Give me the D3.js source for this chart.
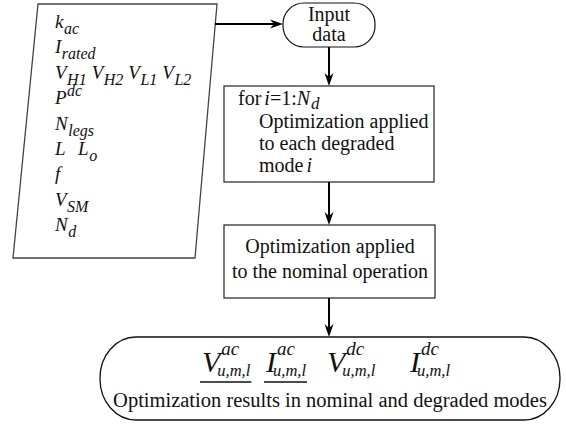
<!DOCTYPE html>
<html>
<head>
<meta charset="utf-8">
<script src="https://cdn.jsdelivr.net/npm/d3@7"></script>
<style>
  html, body { margin: 0; padding: 0; background: #fff; }
</style>
</head>
<body>
<svg id="chart" width="566" height="428"></svg>
<script>
// flowchart content
var inputSymbols = [
  [{b: "k", sub: "ac"}],
  [{b: "I", sub: "rated"}],
  [{b: "V", sub: "H1"}, {b: "V", sub: "H2"}, {b: "V", sub: "L1"}, {b: "V", sub: "L2"}],
  [{b: "P", sup: "dc"}],
  [{b: "N", sub: "legs"}],
  [{b: "L"}, {b: "L", sub: "o"}],
  [{b: "f"}],
  [{b: "V", sub: "SM"}],
  [{b: "N", sub: "d"}]
];
var startLabel = ["Input", "data"];
var loopHeader = [{t: "for ", it: false}, {t: "i", it: true}, {t: "=1:", it: false}, {t: "N", it: true}];
var loopHeaderSub = "d";
var loopLabel = ["Optimization applied", "to each degraded", "mode "];
var loopLabelTail = "i";
var nominalLabel = ["Optimization applied", "to the nominal operation"];
var resultSymbols = [
  {b: "V", sup: "ac", sub: "u,m,l", line: true},
  {b: "I", sup: "ac", sub: "u,m,l", line: true},
  {b: "V", sup: "dc", sub: "u,m,l", line: false},
  {b: "I", sup: "dc", sub: "u,m,l", line: false}
];
var resultCaption = "Optimization results in nominal and degraded modes";

// layout
var svg = d3.select("#chart");
var FONT = "'Liberation Serif'";
var cx = 329;
var para = [[38, 4], [217, 4], [195, 258], [13, 258]];
var startBox = {x: 283, y: 3, w: 92, h: 44};
var loopBox = {x: 224, y: 86, w: 210, h: 96};
var nomBox = {x: 224, y: 225, w: 211, h: 73};
var endBox = {x: 100, y: 337, w: 460, h: 83};
var resultX = [202, 266, 327, 410];

var rowY = d3.scalePoint().domain(d3.range(inputSymbols.length)).range([28, 231]);

function label(x, y, size, italic) {
  return svg.append("text").attr("x", x).attr("y", y)
    .style("font-family", FONT)
    .style("font-size", size + "px")
    .style("font-style", italic ? "italic" : "normal")
    .attr("fill", "#111");
}

// shapes
svg.append("path")
  .attr("d", d3.line()(para) + "Z")
  .attr("fill", "none").attr("stroke", "#444").attr("stroke-width", 1.3);

svg.append("rect")
  .attr("x", startBox.x).attr("y", startBox.y).attr("width", startBox.w).attr("height", startBox.h)
  .attr("rx", 21).attr("ry", 21)
  .attr("fill", "none").attr("stroke", "#111").attr("stroke-width", 1.2);

[loopBox, nomBox].forEach(function(b) {
  svg.append("rect")
    .attr("x", b.x).attr("y", b.y).attr("width", b.w).attr("height", b.h)
    .attr("fill", "none").attr("stroke", "#222").attr("stroke-width", 1.2);
});

svg.append("rect")
  .attr("x", endBox.x).attr("y", endBox.y).attr("width", endBox.w).attr("height", endBox.h)
  .attr("rx", 36).attr("ry", 41)
  .attr("fill", "none").attr("stroke", "#111").attr("stroke-width", 1.3);

// arrows
function arrow(x1, y1, x2, y2) {
  var ang = Math.atan2(y2 - y1, x2 - x1);
  var L = 13, W = 4.5, N = 9;
  function pt(d, s) {
    return [x2 - d * Math.cos(ang) - s * Math.sin(ang), y2 - d * Math.sin(ang) + s * Math.cos(ang)];
  }
  svg.append("line")
    .attr("x1", x1).attr("y1", y1).attr("x2", pt(N, 0)[0]).attr("y2", pt(N, 0)[1])
    .attr("stroke", "#000").attr("stroke-width", 2);
  svg.append("path")
    .attr("d", "M" + [x2, y2] + "L" + pt(L, W) + "L" + pt(N, 0) + "L" + pt(L, -W) + "Z")
    .attr("fill", "#000");
}
arrow(215, 24, startBox.x, 24);
arrow(cx, startBox.y + startBox.h, cx, loopBox.y);
arrow(cx, loopBox.y + loopBox.h, cx, nomBox.y);
arrow(cx, nomBox.y + nomBox.h, cx, endBox.y);

// input symbols
inputSymbols.forEach(function(row, i) {
  var y = rowY(i);
  var x = 55;
  row.forEach(function(s) {
    var t = label(x, y, 19, true).text(s.b);
    var w = t.node().getComputedTextLength() + 0.5;
    var extra = 0;
    if (s.sub) {
      var st = label(x + w, y + 6, 16, true).text(s.sub);
      extra = st.node().getComputedTextLength();
    }
    if (s.sup) {
      var pt = label(x + w, y - 8, 16, true).text(s.sup);
      extra = Math.max(extra, pt.node().getComputedTextLength());
    }
    // bare symbols get a wider gap, like "L   Lo"
    x += w + extra + (s.sub || s.sup ? 5 : 12);
  });
});

// start label
startLabel.forEach(function(s, i) {
  label(cx, 21 + i * 20, 20, false).attr("text-anchor", "middle").text(s);
});

// loop box, header pieces laid out one after another
var hx = 238;
loopHeader.forEach(function(p) {
  var t = label(hx, 105, 20, p.it).text(p.t);
  hx += t.node().getComputedTextLength() + (p.t === "for " ? 3 : 0);
});
label(hx + 1, 109, 17, true).text(loopHeaderSub);

loopLabel.forEach(function(s, i) {
  var t = label(259, 128 + i * 22, 20, false).text(s);
  if (i === loopLabel.length - 1) {
    label(259 + t.node().getComputedTextLength() + 3, 128 + i * 22, 20, true).text(loopLabelTail);
  }
});

// nominal box
nominalLabel.forEach(function(s, i) {
  label(cx + 1, 253 + i * 25, 20, false).attr("text-anchor", "middle").text(s);
});

// results
resultSymbols.forEach(function(s, i) {
  var x = resultX[i], y = 372;
  var t = label(x, y, 30, true).text(s.b);
  var w = t.node().getComputedTextLength();
  label(x + w + 1, y - 17, 19, true).text(s.sup);
  var sb = label(x + w - 3, y + 4, 16.5, true).text(s.sub);
  var end = x + w - 3 + sb.node().getComputedTextLength();
  if (s.line) {
    svg.append("line").attr("x1", x - 2).attr("x2", end + 1).attr("y1", 382).attr("y2", 382)
      .attr("stroke", "#111").attr("stroke-width", 1.3);
  }
});

label(cx + 1, 407, 20.5, false).attr("text-anchor", "middle").text(resultCaption);
</script>
</body>
</html>
